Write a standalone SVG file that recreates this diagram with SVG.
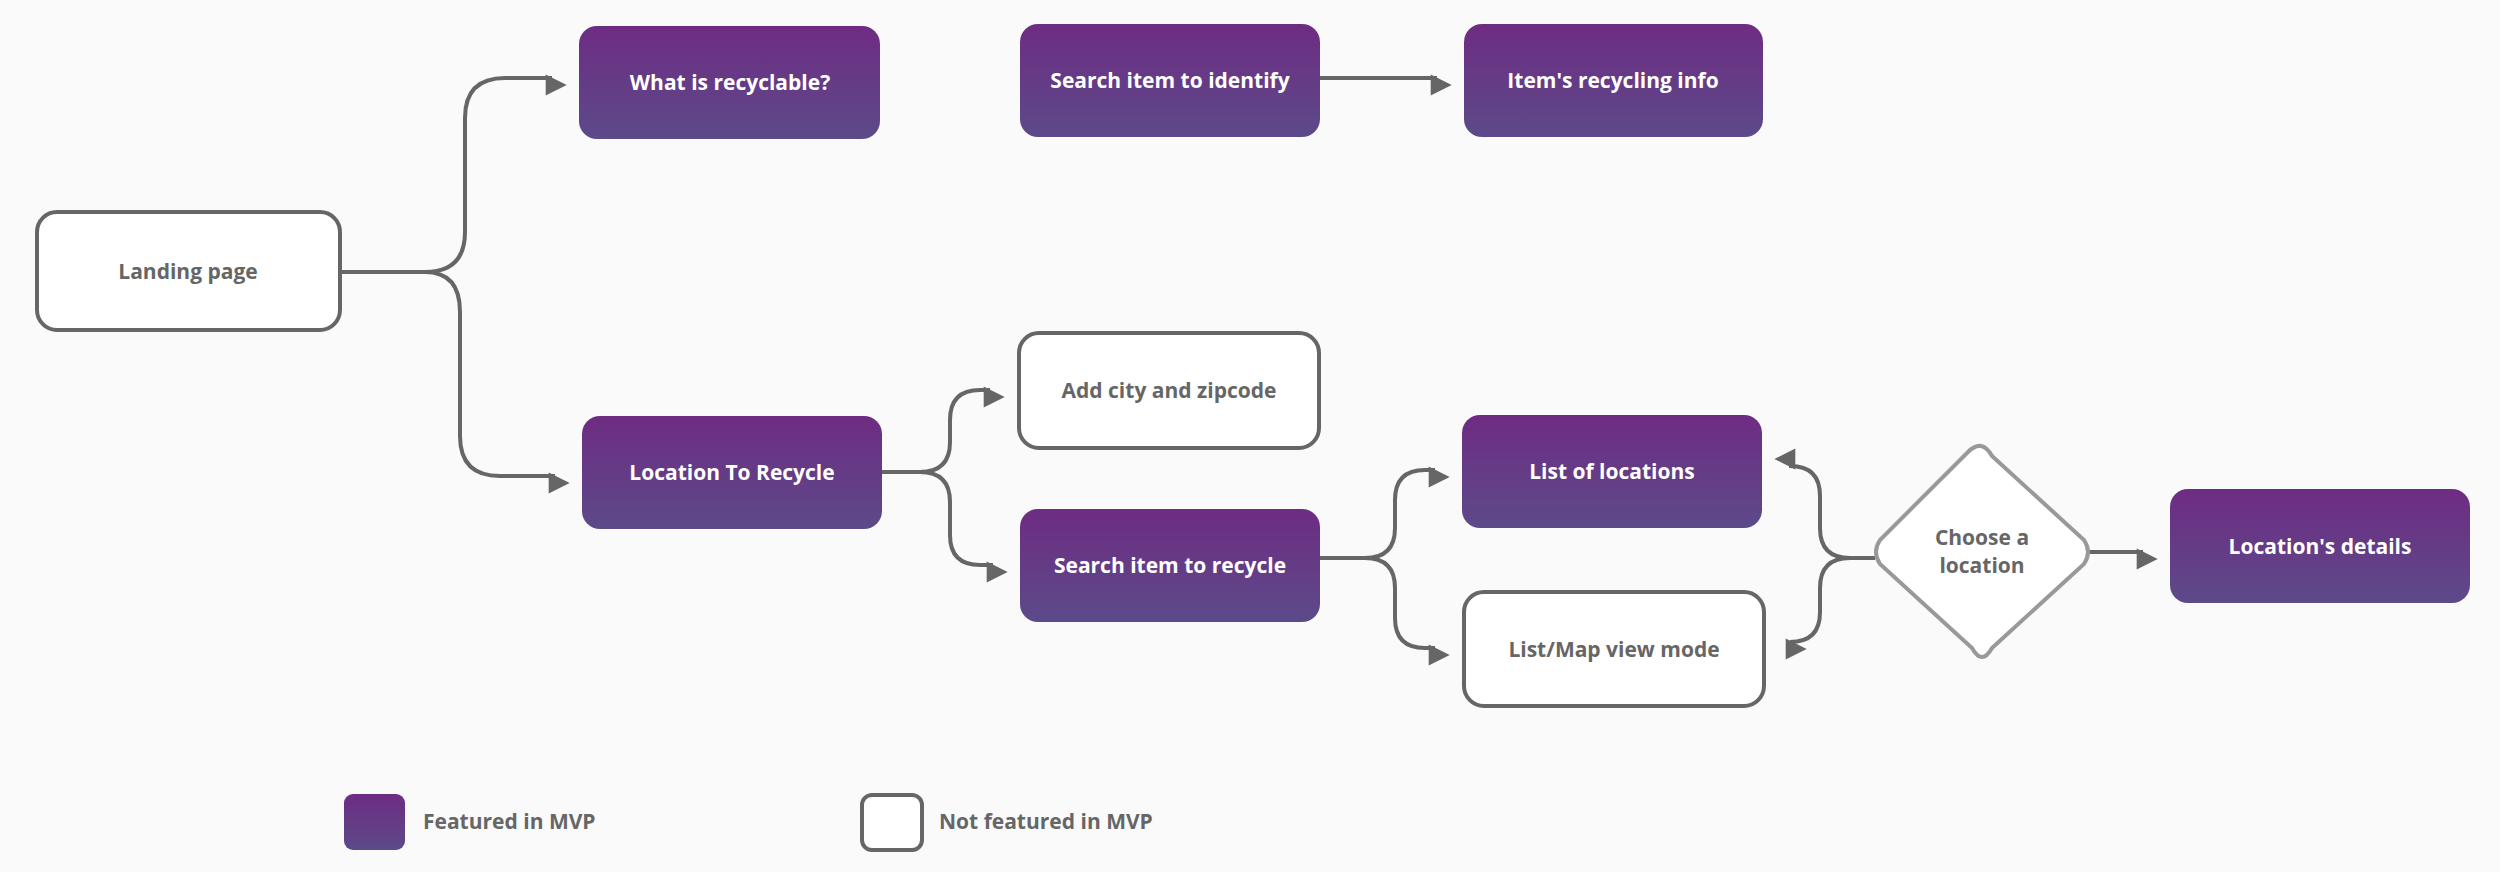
<svg xmlns="http://www.w3.org/2000/svg" width="2500" height="872" viewBox="0 0 2500 872">
<style>
.p{fill:url(#g)}
.w{fill:#fff;stroke:#666;stroke-width:4}
.t{font-family:"Open Sans","Liberation Sans",sans-serif;font-weight:bold;font-size:21px;text-anchor:middle;dominant-baseline:central}
.tw{fill:#fff}.tg{fill:#666}
.c{fill:none;stroke:#666;stroke-width:4;marker-end:url(#a)}
</style>
<defs>
<linearGradient id="g" x1="0" y1="0" x2="0" y2="1"><stop offset="0" stop-color="#6e2c82"/><stop offset="1" stop-color="#5c4a8a"/></linearGradient>
<marker id="a" viewBox="0 0 10 10" refX="9" refY="5" markerWidth="7" markerHeight="7" markerUnits="userSpaceOnUse" orient="auto" style="overflow:visible"><path d="M0,0 L10,5 L0,10 z" fill="#666" transform="scale(3) translate(-7,-5) translate(7,5)"/></marker>
</defs>
<rect width="2500" height="872" fill="#fafafa"/>
<g id="connectors">
<path class="c" d="M340,272 H425 Q465,272 465,232 V118 Q465,78 505,78 H552"/>
<path class="c" d="M340,272 H425 Q460,272 460,312 V436 Q460,476 500,476 H555"/>
<path class="c" d="M882,472 H920 Q950,472 950,442 V420 Q950,390 980,390 H990"/>
<path class="c" d="M882,472 H920 Q950,472 950,502 V535 Q950,565 980,565 H993"/>
<path class="c" d="M1320,558 H1365 Q1395,558 1395,528 V500 Q1395,470 1425,470 H1435"/>
<path class="c" d="M1320,558 H1365 Q1395,558 1395,588 V618 Q1395,648 1425,648 H1435"/>
<path class="c" d="M1875,558 H1850 Q1820,558 1820,528 V496 Q1820,466 1790,466 H1789"/>
<path class="c" d="M1875,558 H1850 Q1820,558 1820,588 V612 Q1820,642 1790,642 H1792"/>
<path class="c" d="M2089,552 H2143"/>
<path class="c" d="M1320,78 H1437"/>
</g>
<g id="landing"><rect class="w" x="37" y="212" width="303" height="118" rx="20"/><text class="t tg" x="188" y="271">Landing page</text></g>
<g id="recyclable"><rect class="p" x="579" y="26" width="301" height="113" rx="18"/><text class="t tw" x="730" y="82">What is recyclable?</text></g>
<g id="identify"><rect class="p" x="1020" y="24" width="300" height="113" rx="18"/><text class="t tw" x="1170" y="80">Search item to identify</text></g>
<g id="info"><rect class="p" x="1464" y="24" width="299" height="113" rx="18"/><text class="t tw" x="1613" y="80">Item's recycling info</text></g>
<g id="location"><rect class="p" x="582" y="416" width="300" height="113" rx="18"/><text class="t tw" x="732" y="472">Location To Recycle</text></g>
<g id="city"><rect class="w" x="1019" y="333" width="300" height="115" rx="20"/><text class="t tg" x="1169" y="390">Add city and zipcode</text></g>
<g id="searchrec"><rect class="p" x="1020" y="509" width="300" height="113" rx="18"/><text class="t tw" x="1170" y="565">Search item to recycle</text></g>
<g id="list"><rect class="p" x="1462" y="415" width="300" height="113" rx="18"/><text class="t tw" x="1612" y="471">List of locations</text></g>
<g id="mapview"><rect class="w" x="1464" y="592" width="300" height="114" rx="20"/><text class="t tg" x="1614" y="649">List/Map view mode</text></g>
<g id="choose"><path d="M1968,452 Q1982,438 1992,456 L2084,540 Q2092,552 2084,564 L1992,648 Q1982,666 1972,648 L1880,564 Q1872,552 1880,540 Z" fill="#fff" stroke="#999" stroke-width="4"/><text class="t tg" x="1982" y="537">Choose a</text><text class="t tg" x="1982" y="565">location</text></g>
<g id="details"><rect class="p" x="2170" y="489" width="300" height="114" rx="18"/><text class="t tw" x="2320" y="546">Location's details</text></g>
<g id="legend">
<rect class="p" x="344" y="794" width="61" height="56" rx="9"/>
<text class="t tg" x="423" y="821" style="text-anchor:start">Featured in MVP</text>
<rect class="w" x="862" y="795" width="60" height="55" rx="10"/>
<text class="t tg" x="939" y="821" style="text-anchor:start">Not featured in MVP</text>
</g>
</svg>
